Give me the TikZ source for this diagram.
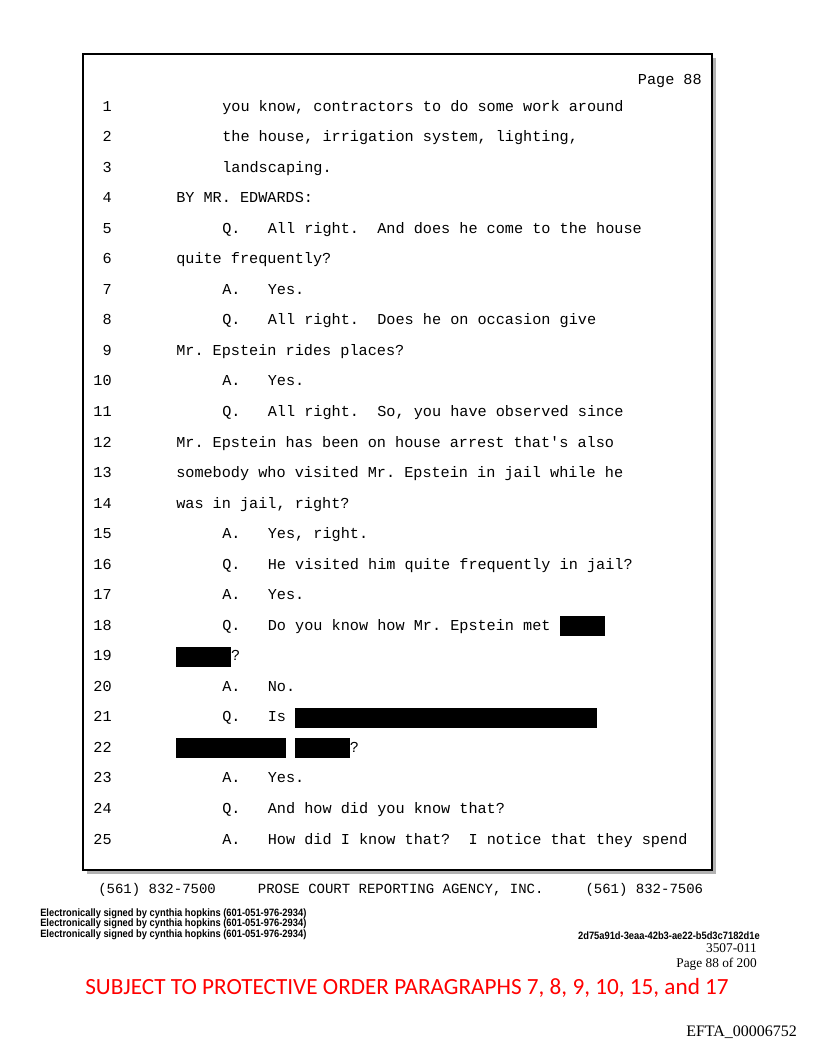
\documentclass[tikz,border=0pt]{standalone}
\usepackage{fontspec}
\setmainfont{Liberation Serif}
\setmonofont{Liberation Mono}
\newfontfamily\signfont[FakeStretch=0.875]{Liberation Sans}
\newfontfamily\stampfont{Carlito}
\usetikzlibrary{positioning}

\newlength\cw
\setlength\cw{6.855pt}
\newcommand\blackout[1]{\rule[-4.5pt]{#1\cw}{15pt}}
\newcommand\trfont{\ttfamily\fontsize{11.4}{13}\selectfont\frenchspacing}

\tikzset{
  lnum/.style={font=\trfont, inner sep=0pt, anchor=mid east},
  qline/.style={font=\trfont, inner sep=0pt, right=82.5pt of #1.mid east, anchor=mid west},
  fline/.style={font=\trfont, inner sep=0pt, right=48pt of #1.mid east, anchor=mid west},
  signed/.style={font=\signfont\bfseries\fontsize{8}{9}\selectfont, inner sep=0pt},
}

\begin{document}
\begin{tikzpicture}[x=0.75pt, y=-0.75pt]
  \useasboundingbox (0,0) rectangle (816,1056);
  % transcript frame and its shadow
  \fill[black!30] (87,58) rectangle (716,874);
  \draw[line width=1pt, fill=white] (83,54) rectangle (712,870);
  \node[lnum] (page) at (702,81) {Page 88};

  % line numbers
  \foreach \n in {1,...,25}
    \node[lnum] (n\n) at (112,{108+(\n-1)*30.54}) {\n};

  % testimony
  \node[qline=n1] (t1) {you know, contractors to do some work around};
  \node[qline=n2] (t2) {the house, irrigation system, lighting,};
  \node[qline=n3] (t3) {landscaping.};
  \node[fline=n4] (t4) {BY MR. EDWARDS:};
  \node[qline=n5] (t5) {Q.\ \ \ All right.\ \ And does he come to the house};
  \node[fline=n6] (t6) {quite frequently?};
  \node[qline=n7] (t7) {A.\ \ \ Yes.};
  \node[qline=n8] (t8) {Q.\ \ \ All right.\ \ Does he on occasion give};
  \node[fline=n9] (t9) {Mr. Epstein rides places?};
  \node[qline=n10] (t10) {A.\ \ \ Yes.};
  \node[qline=n11] (t11) {Q.\ \ \ All right.\ \ So, you have observed since};
  \node[fline=n12] (t12) {Mr. Epstein has been on house arrest that's also};
  \node[fline=n13] (t13) {somebody who visited Mr. Epstein in jail while he};
  \node[fline=n14] (t14) {was in jail, right?};
  \node[qline=n15] (t15) {A.\ \ \ Yes, right.};
  \node[qline=n16] (t16) {Q.\ \ \ He visited him quite frequently in jail?};
  \node[qline=n17] (t17) {A.\ \ \ Yes.};
  \node[qline=n18] (t18) {Q.\ \ \ Do you know how Mr. Epstein met \blackout{4.9}};
  \node[fline=n19] (t19) {\blackout{6}?};
  \node[qline=n20] (t20) {A.\ \ \ No.};
  \node[qline=n21] (t21) {Q.\ \ \ Is \blackout{33}};
  \node[fline=n22] (t22) {\blackout{12} \blackout{6}?};
  \node[qline=n23] (t23) {A.\ \ \ Yes.};
  \node[qline=n24] (t24) {Q.\ \ \ And how did you know that?};
  \node[qline=n25] (t25) {A.\ \ \ How did I know that?\ \ I notice that they spend};

  % footer
  \node[font=\ttfamily\fontsize{10.5}{12}\selectfont, inner sep=0pt, anchor=mid west] (agency) at (98,890)
    {(561) 832-7500\ \ \ \ \ PROSE COURT REPORTING AGENCY, INC.\ \ \ \ \ (561) 832-7506};
  \foreach \k/\y in {1/913,2/923.5,3/934}
    \node[signed, anchor=mid west] (sig\k) at (40,\y) {Electronically signed by cynthia hopkins (601-051-976-2934)};
  \node[signed, anchor=mid east] (hash) at (760,936) {2d75a91d-3eaa-42b3-ae22-b5d3c7182d1e};
  \node[font=\fontsize{10}{12}\selectfont, inner sep=0pt, anchor=mid east] (batch) at (757,949) {3507-011};
  \node[font=\fontsize{10}{12}\selectfont, inner sep=0pt, anchor=mid east] (pageof) at (757,964) {Page 88 of 200};
  \node[font=\stampfont\fontsize{17.4}{20}\selectfont, text=red, inner sep=0pt, anchor=mid west] (order) at (85,991)
    {SUBJECT TO PROTECTIVE ORDER PARAGRAPHS 7, 8, 9, 10, 15, and 17};
  \node[font=\fontsize{12}{14}\selectfont, inner sep=0pt, anchor=mid west] (efta) at (686,1033) {EFTA\_00006752};
\end{tikzpicture}
\end{document}
